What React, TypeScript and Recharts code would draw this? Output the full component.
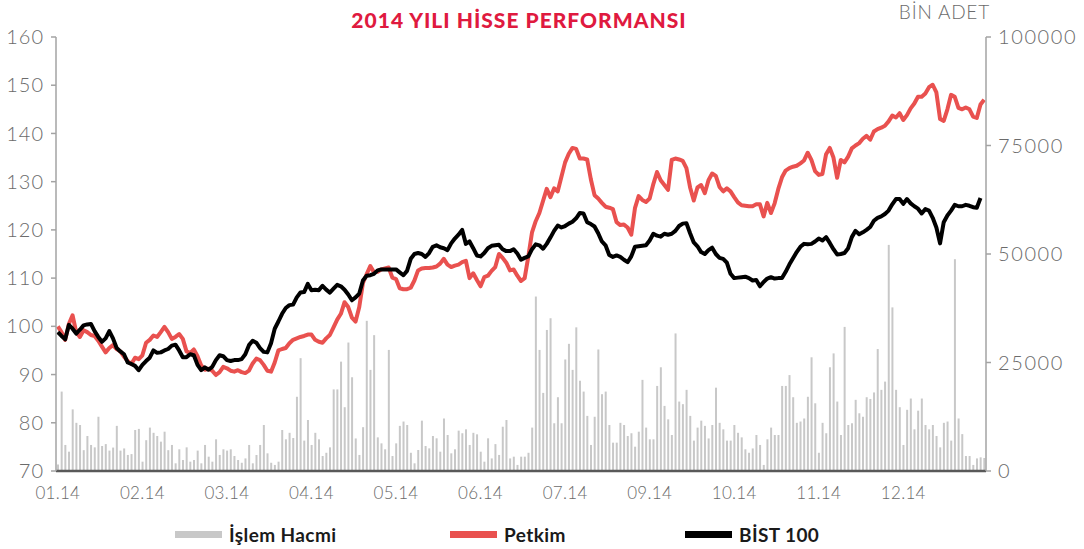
import React from 'react';
import { ComposedChart, Bar, Line, XAxis, YAxis } from 'recharts';

const tickLabels = ['01.14', '02.14', '03.14', '04.14', '05.14', '06.14', '07.14', '09.14', '10.14', '11.14', '12.14'];
const tickStep = 23;
const leftTicks = [70, 80, 90, 100, 110, 120, 130, 140, 150, 160];
const rightTicks = [0, 25000, 50000, 75000, 100000];

const volume = [
  1500,
  18300, 6000, 4450, 14200, 11100, 10600, 4800, 8060, 6000, 5450, 12500, 5760, 6200, 4700, 5400, 10400, 4700, 5200, 3700, 3900, 9450, 9700, 2150, 7100, 10000, 8800, 8060, 6760, 9060, 4800, 6000,
  1770, 5000, 2530, 5450, 2150, 2530, 4700, 1770, 6000, 3300, 2150, 7300, 3700, 5000, 4700, 5000, 3450, 2530, 1900, 2900, 6000, 1770, 3700, 6000, 10600, 4070, 1900, 1400, 2150, 9450, 7300, 8800, 7600,
  17100, 26000, 7000, 11750, 6000, 8800, 7300, 3450, 4200, 5450, 18800, 18800, 25200, 14700, 29600, 21600, 7500, 3700, 10100, 34600, 23300, 31300, 7750, 6370, 5000, 27900, 3450, 6370, 10400, 11400, 10600, 4200,
  1770, 4840, 11600, 5760, 5220, 8060, 7530, 4450, 12100, 8300, 4070, 5000, 9300, 8700, 9600, 6000, 8800, 8450, 4450, 2150, 7530, 2900, 6200, 3700, 10200, 11750, 2900, 3300, 1400, 3300, 3300, 4200, 10000,
  40200, 27900, 18000, 32500, 35200, 11000, 17000, 11000, 25700, 29300, 23300, 33100, 20800, 18300, 12700, 6000, 12500, 28000, 17700, 18300, 10600, 6530, 6530, 11100, 10600, 8060, 8700, 5600, 9060, 21000, 10000, 7300, 7300,
  19600, 23900, 15000, 11900, 8300, 31700, 16000, 15400, 18700, 12700, 7000, 10000, 11600, 10400, 7500, 10600, 19200, 11100, 9600, 7000, 7000, 10600, 8800, 7750, 5000, 4200, 5200, 8300, 6000, 1400, 7300, 10000, 8300,
  8300, 19600, 19600, 22100, 17000, 11100, 11400, 12100, 17100, 26200, 15600, 4200, 11100, 8700, 23900, 27100, 16000, 8300, 33200, 10600, 11000, 16400, 13300, 12500, 17000, 16600, 18100, 28100, 18700, 20600, 52100, 37700,
  18700, 14700, 6000, 14100, 16700, 9600, 13900, 16700, 10600, 9600, 10600, 8060, 5450, 11100, 11400, 7000, 48800, 12100, 8500, 3450, 3450, 1400, 2900, 3150, 3000,
];

const petkim = [
  100.0, 98.8, 97.2, 100.5, 102.3, 98.8, 97.8, 99.2, 98.8, 98.2,
  98.0, 97.0, 95.8, 94.6, 95.5, 96.1, 95.3, 94.8, 93.7, 92.8,
  92.2, 93.5, 93.2, 94.0, 96.6, 97.2, 98.1, 97.8, 98.8, 99.9,
  98.8, 97.4, 97.8, 98.4, 97.4, 94.8, 94.5, 95.2, 93.8, 91.9,
  91.0, 91.2, 90.8, 89.9, 90.5, 91.6, 91.3, 90.8, 90.6, 90.9,
  90.5, 90.3, 90.8, 92.3, 93.3, 93.0, 92.0, 90.8, 90.6, 92.5,
  95.0, 95.3, 95.5, 96.5, 97.2, 97.5, 97.8, 98.0, 98.3, 98.3,
  97.2, 96.8, 96.6, 97.5, 98.2, 99.8, 101.4, 102.6, 105.0, 104.0,
  101.8, 101.0, 104.0, 109.0, 110.8, 112.5, 111.2, 111.3, 111.8, 112.0,
  112.2, 110.1, 109.8, 107.9, 107.7, 107.7, 108.0, 109.5, 111.6, 112.0,
  112.1, 112.1, 112.2, 112.4, 113.0, 114.0, 112.8, 112.3, 112.6, 112.8,
  113.3, 113.6, 110.0, 111.0, 109.6, 108.3, 110.2, 110.5, 111.5, 112.3,
  115.0, 114.2, 113.2, 111.6, 111.8, 110.5, 109.4, 110.0, 114.5, 119.5,
  121.8, 123.5, 126.0, 128.5, 126.8, 128.6, 128.0, 131.0, 134.0, 135.8,
  137.0, 136.8, 134.8, 134.8, 134.6, 130.5, 127.2, 126.5, 125.6, 124.8,
  124.6, 124.3, 121.6, 121.0, 121.1, 120.5, 119.0, 124.5, 127.0, 126.2,
  125.8, 126.5, 129.5, 132.0, 130.3, 129.3, 128.3, 134.5, 134.8, 134.6,
  134.3, 132.8, 128.8, 126.1, 128.8, 129.3, 127.6, 130.3, 131.7, 131.2,
  128.9, 128.0, 128.6, 128.0, 126.8, 125.7, 125.1, 125.0, 124.9, 124.9,
  125.3, 125.3, 122.8, 125.6, 123.5, 125.5, 128.5, 130.9, 132.3, 132.8,
  133.1, 133.3, 133.8, 134.4, 136.0, 134.5, 132.2, 131.4, 131.6, 135.7,
  137.0, 135.0, 130.8, 134.5, 134.0, 135.2, 136.9, 137.5, 138.0, 138.9,
  139.5, 138.7, 140.4, 140.9, 141.2, 141.6, 142.5, 143.7, 143.3, 144.2,
  142.8, 143.8, 145.2, 146.2, 147.6, 147.6, 148.3, 149.6, 150.1, 148.5,
  143.0, 142.6, 145.0, 148.0, 147.6, 145.3, 145.0, 145.4, 145.0, 143.5,
  143.2, 146.0, 147.0,
];

const bist = [
  98.8, 98.0, 97.3, 100.3, 99.5, 98.5, 99.3, 100.2, 100.4, 100.5,
  99.0, 97.8, 96.8, 97.5, 99.0, 97.5, 95.5, 94.8, 94.2, 92.5,
  92.2, 91.8, 90.9, 92.0, 92.8, 93.5, 95.0, 94.5, 94.6, 95.0,
  95.3, 96.0, 96.2, 95.0, 93.6, 93.6, 94.2, 94.0, 92.0, 90.9,
  91.5, 91.0, 91.6, 93.0, 94.0, 93.8, 93.0, 92.8, 93.0, 93.0,
  93.2, 94.2, 96.1, 97.0, 96.6, 95.5, 94.7, 94.6, 96.5, 99.5,
  101.0, 102.6, 103.8, 104.4, 104.5, 106.0, 107.0, 107.1, 108.8, 107.5,
  107.6, 107.5, 108.4, 107.6, 107.0, 107.8, 108.6, 108.3, 107.6, 106.6,
  105.4, 106.0, 106.8, 109.5, 110.5, 110.6, 110.9, 111.6, 111.8, 111.8,
  111.8, 111.8, 111.8, 111.2, 110.6, 111.5, 114.0, 115.0, 115.2, 115.0,
  114.4, 115.2, 116.5, 116.8, 116.4, 116.2, 115.8, 117.2, 118.2, 119.0,
  120.0, 117.1, 117.6, 116.2, 114.7, 114.5, 115.2, 116.2, 116.7, 116.8,
  116.9, 116.0, 115.6, 115.6, 116.0, 115.1, 113.8, 114.2, 114.5, 116.0,
  117.0, 116.8, 116.1, 117.1, 118.4, 119.8, 120.9, 120.5, 120.8, 121.3,
  121.7, 122.4, 123.5, 123.4, 121.6, 121.2, 120.7, 119.3, 117.6, 116.8,
  114.8, 114.4, 114.7, 114.4, 113.8, 113.3, 114.5, 116.5, 116.6, 116.7,
  116.8, 117.8, 119.2, 118.8, 118.6, 119.2, 119.0, 119.2, 119.8, 120.8,
  121.3, 121.4, 119.3, 117.4, 116.6, 115.4, 115.0, 115.8, 116.3, 115.0,
  114.2, 114.0, 113.2, 110.9, 110.0, 110.1, 110.2, 110.3, 110.0, 109.5,
  109.6, 108.3, 109.2, 109.9, 110.2, 109.9, 110.0, 110.0, 111.3, 112.8,
  114.1, 115.4, 116.5, 117.1, 117.0, 117.1, 117.6, 118.2, 117.8, 118.5,
  117.3, 116.0, 114.9, 115.0, 115.2, 116.2, 118.5, 119.8, 119.1, 119.5,
  120.0, 120.6, 121.9, 122.5, 122.8, 123.3, 124.0, 125.3, 126.4, 126.4,
  125.4, 126.4, 125.5, 124.9, 124.4, 123.4, 124.3, 124.0, 122.5, 120.5,
  117.2, 121.6, 123.0, 124.0, 125.2, 124.9, 124.9, 125.2, 125.0, 124.7,
  124.6, 126.6, null,
];

const data = volume.map((v, i) => ({
  i,
  volume: v,
  petkim: petkim[i] ?? null,
  bist: bist[i] ?? null,
}));

const tickIndices = tickLabels.map((_, k) => k * tickStep);
const labelAt = (v: number) => {
  const k = tickIndices.indexOf(Number(v));
  return k >= 0 ? tickLabels[k] : '';
};

const RED = '#e9514f';
const GRAY = '#c8c8c8';
const axisFont = { fill: '#6b6b6b', fontSize: 20, fontFamily: 'Lato, sans-serif', fontWeight: 300, letterSpacing: 1 };

const legendItems = [
  { label: 'İşlem Hacmi', color: GRAY, left: 175 },
  { label: 'Petkim', color: RED, left: 450 },
  { label: 'BİST 100', color: '#000000', left: 685 },
];

export default function App() {
  return (
    <div style={{ position: 'absolute', left: 0, top: 0, width: 1084, height: 549, background: '#fff', overflow: 'hidden' }}>
      <ComposedChart width={1084} height={549} data={data} margin={{ top: 37, right: 0, bottom: 48, left: 0 }}>
        <XAxis
          dataKey="i"
          type="category"
          ticks={tickIndices}
          interval={0}
          tickFormatter={labelAt}
          tickLine={false}
          tickSize={6}
          tickMargin={10}
          height={30}
          axisLine={{ stroke: '#595959', strokeWidth: 2.5 }}
          tick={{ ...axisFont, fontSize: 17, letterSpacing: 0.3 }}
        />
        <YAxis
          yAxisId="left"
          orientation="left"
          domain={[70, 160]}
          ticks={leftTicks}
          interval={0}
          width={56}
          tickSize={5}
          tickMargin={7}
          axisLine={{ stroke: '#a3a3a3', strokeWidth: 1.5 }}
          tickLine={{ stroke: '#a3a3a3', strokeWidth: 1.5 }}
          tick={axisFont}
        />
        <YAxis
          yAxisId="right"
          orientation="right"
          domain={[0, 100000]}
          ticks={rightTicks}
          interval={0}
          width={98}
          tickSize={5}
          tickMargin={7}
          axisLine={{ stroke: '#a3a3a3', strokeWidth: 1.5 }}
          tickLine={{ stroke: '#a3a3a3', strokeWidth: 1.5 }}
          tick={{ ...axisFont, letterSpacing: 1.6 }}
        />
        <Bar yAxisId="right" dataKey="volume" fill={GRAY} barSize={2} isAnimationActive={false} />
        <Line
          yAxisId="left"
          type="linear"
          dataKey="petkim"
          stroke={RED}
          strokeWidth={4}
          dot={false}
          activeDot={false}
          strokeLinejoin="round"
          isAnimationActive={false}
        />
        <Line
          yAxisId="left"
          type="linear"
          dataKey="bist"
          stroke="#000000"
          strokeWidth={4}
          dot={false}
          activeDot={false}
          strokeLinejoin="round"
          isAnimationActive={false}
        />
      </ComposedChart>
      <div
        style={{
          position: 'absolute', left: 0, top: 7, width: 1038, textAlign: 'center',
          fontFamily: 'Lato, sans-serif', fontWeight: 900, fontSize: 21, lineHeight: '26px',
          color: '#df1a3f', letterSpacing: 1,
        }}
      >
        2014 YILI HİSSE PERFORMANSI
      </div>
      <div
        style={{
          position: 'absolute', right: 94, top: 1, fontFamily: 'Lato, sans-serif', fontWeight: 300,
          fontSize: 19, lineHeight: '22px', color: '#6b6b6b', letterSpacing: 0.8,
        }}
      >
        BİN ADET
      </div>
      {legendItems.map((it) => (
        <div key={it.label} style={{ position: 'absolute', left: it.left, top: 522, height: 24, display: 'flex', alignItems: 'center' }}>
          <div style={{ width: 47, height: 7, background: it.color, marginRight: 7 }} />
          <span style={{ fontFamily: 'Lato, sans-serif', fontWeight: 700, fontSize: 19, color: '#1a1a1a', letterSpacing: 0.4 }}>{it.label}</span>
        </div>
      ))}
    </div>
  );
}
